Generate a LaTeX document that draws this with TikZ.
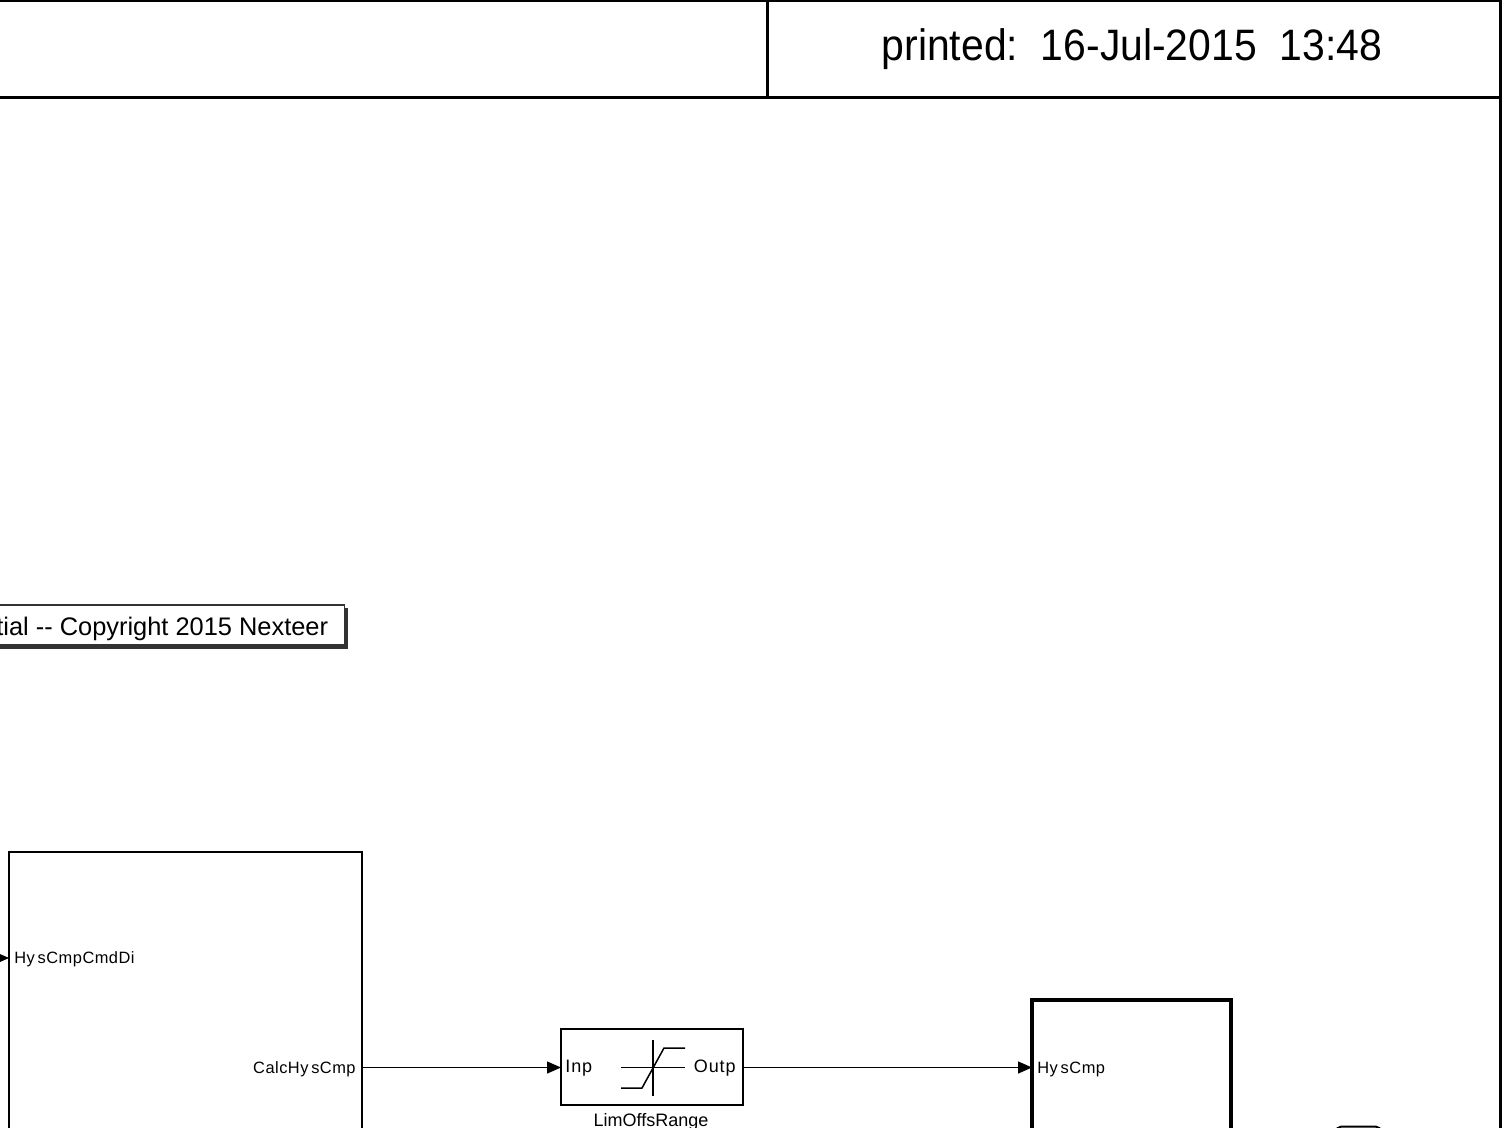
\documentclass[tikz,border=0pt]{standalone}
\usepackage{fontspec}
\setmainfont{Liberation Sans}
\newfontfamily\printfont[FakeStretch=0.93]{Liberation Sans}
\usepackage{tikz}
\usetikzlibrary{arrows.meta,positioning}
\tikzstyle{block} = [rectangle, anchor=north west, draw=black, line width=0.75pt, fill=white, inner sep=0pt, outer sep=0pt]
\tikzstyle{subsys} = [rectangle, anchor=north west, draw=black, line width=1.6pt, fill=white, inner sep=0pt, outer sep=0pt]
\tikzstyle{portlabel} = [inner sep=0pt, font={\fontsize{8.2}{8.2}\selectfont\addfontfeature{LetterSpace=3}}]
\tikzstyle{limlabel} = [inner sep=0pt, font={\fontsize{9}{9}\selectfont\addfontfeature{LetterSpace=5}}]
\tikzstyle{arrow} = [line width=0.7pt,-{Triangle[length=7pt,width=6pt]}]
\tikzstyle{frameline} = [line width=1.5pt]
\tikzstyle{iconline} = [line width=0.75pt]
\newcommand{\hy}{Hy\kern1.4pt s}
\begin{document}
\begin{tikzpicture}[x=0.5pt, y=-0.5pt]
                    \useasboundingbox (0,0) rectangle (1506,1128);
                    \clip (0,0) rectangle (1506,1128);
                    % header
                    \draw [frameline] (-10,0.5) -- (1500.5,0.5) -- (1500.5,1140);
                    \draw [frameline] (-10,97.3) -- (1500.5,97.3);
                    \draw [frameline] (767,0) -- (767,97.3);
                    \node (Printed) at (1132,49) [inner sep=0pt, font={\fontsize{22}{22}\printfont}] {printed:\ \ 16-Jul-2015\ \ 13:48};
                    % note
                    \fill [black!80] (-10,608) rectangle (348,649);
                    \node (Note) [block, minimum width=354.5*0.5pt, minimum height=40*0.5pt, draw=black!80] at (-10,605) {};
                    \node (NoteText) [anchor=east, inner sep=0pt, font=\fontsize{12.7}{12.7}\selectfont] at (328.5,628.5) {tial -{}- Copyright 2015 Nexteer};
                    % blocks
                    \node (Calc) [block, minimum width=353*0.5pt, minimum height=400*0.5pt] at (9,852) {};
                    \node (Lim) [block, minimum width=182*0.5pt, minimum height=76*0.5pt] at (561,1029) {};
                    \node (Hys) [subsys, minimum width=199*0.5pt, minimum height=400*0.5pt] at (1032,1000) {};
                    \node (Term) [block, rounded corners=2.5pt, line width=1pt, minimum width=45*0.5pt, minimum height=30*0.5pt] at (1336,1126.7) {};
                    \coordinate (InA) at (-20,958);
                    \coordinate (CalcOut) at (362,1067.5);
                    \coordinate (LimIn) at (561,1067.5);
                    \coordinate (LimOut) at (743,1067.5);
                    \coordinate (HysIn) at (1032,1067.5);
                    \coordinate (CalcIn) at (9,958);
                    % port labels
                    \node (CalcInText) [portlabel, anchor=west] at (14,959.5) {\hy CmpCmdDi};
                    \node (CalcOutText) [portlabel, anchor=east] at (356,1069) {Calc\hy Cmp};
                    \node (LimInText) [limlabel, anchor=west] at (565,1068.5) {Inp};
                    \node (LimOutText) [limlabel, anchor=east] at (736,1068.5) {Outp};
                    \node (LimText) [inner sep=0pt, anchor=base, font=\fontsize{9}{9}\selectfont] at (651,1126) {LimOffsRange};
                    \node (HysText) [portlabel, anchor=west] at (1037,1069) {\hy Cmp};
                    % saturation icon
                    \draw [iconline] (621,1067.5) -- (685,1067.5);
                    \draw [iconline] (653,1040) -- (653,1096);
                    \draw [iconline] (621,1088) -- (642,1088) -- (664,1048) -- (685,1048);
                    % connectors
                    \draw [arrow] (InA) -- (CalcIn);
                    \draw [arrow] (CalcOut) -- (LimIn);
                    \draw [arrow] (LimOut) -- (HysIn);
                \end{tikzpicture}
\end{document}
